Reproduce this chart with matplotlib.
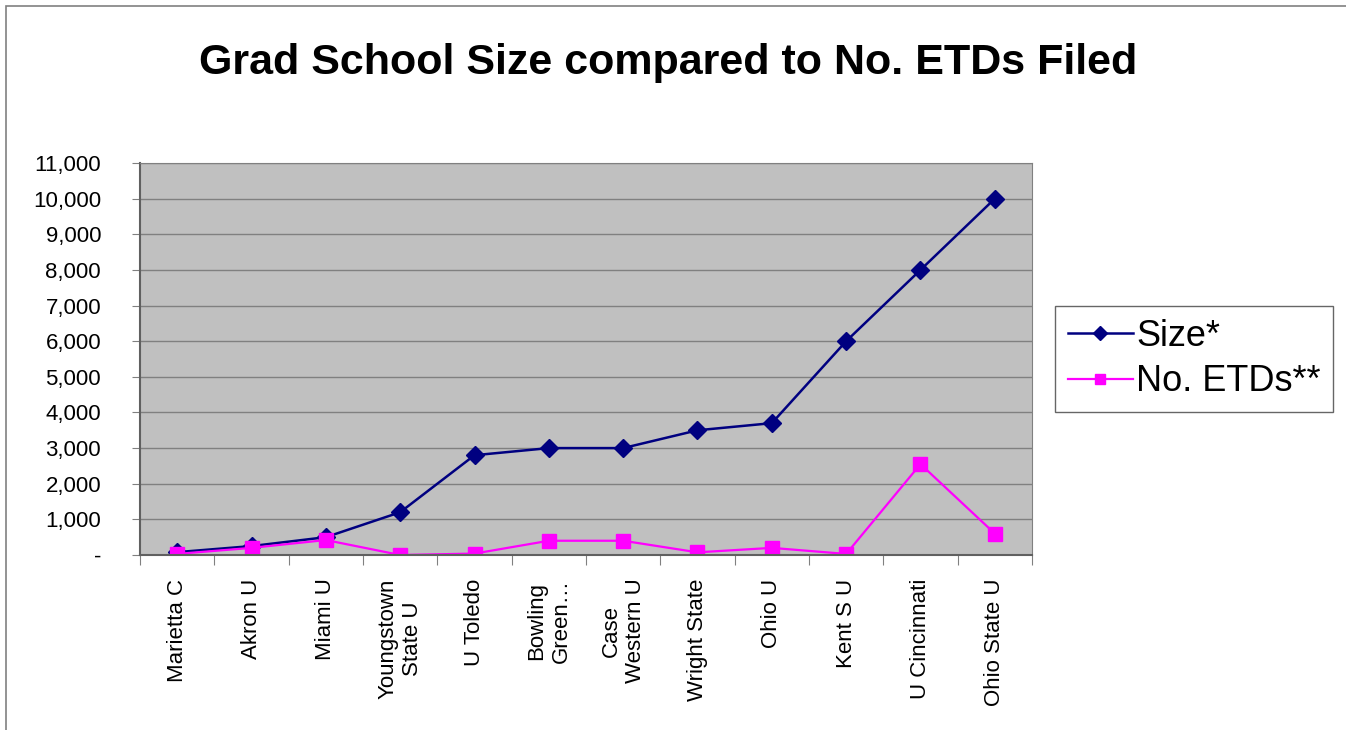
import matplotlib.pyplot as plt
import matplotlib.patches as mpatches
from matplotlib.ticker import FuncFormatter, FixedLocator
import numpy as np

plt.rcParams['font.family'] = ['Liberation Sans', 'DejaVu Sans']

schools = ["Marietta C", "Akron U", "Miami U", "Youngstown\nState U", "U Toledo",
           "Bowling\nGreen\u2026", "Case\nWestern U", "Wright State", "Ohio U",
           "Kent S U", "U Cincinnati", "Ohio State U"]
size = [80, 250, 500, 1200, 2800, 3000, 3000, 3500, 3700, 6000, 8000, 10000]
etds = [30, 200, 420, 0, 40, 400, 400, 75, 200, 30, 2550, 600]

fig = plt.figure(figsize=(13.46, 7.30), dpi=100)
fig.patches.append(mpatches.Rectangle((6 / 1346, -0.01), 1.02, 1 - 6 / 730 + 0.01,
                                      transform=fig.transFigure, fill=False,
                                      edgecolor='#808080', linewidth=1.2))
ax = fig.add_axes([140 / 1346, 1 - 555 / 730, (1032 - 140) / 1346, (555 - 163) / 730])
ax.set_facecolor('#C0C0C0')

x = np.arange(len(schools))
ax.plot(x, size, color='#000080', marker='D', markersize=9, linewidth=1.8, label='Size*')
ax.plot(x, etds, color='#FF00FF', marker='s', markersize=10, linewidth=1.6, label='No. ETDs**')

ax.set_xlim(-0.5, len(schools) - 0.5)
ax.set_ylim(0, 11000)
ax.set_yticks(np.arange(0, 11001, 1000))
ax.yaxis.set_major_formatter(FuncFormatter(lambda v, p: '-' if v == 0 else f'{int(v):,}'))
ax.grid(axis='y', color='#808080', linewidth=1)
ax.set_axisbelow(True)

ax.xaxis.set_major_locator(FixedLocator(np.arange(-0.5, len(schools), 1)))
ax.set_xticklabels([])
ax.xaxis.set_minor_locator(FixedLocator(x))
ax.set_xticklabels(schools, minor=True, rotation=90, ha='center', va='top',
                   multialignment='center', fontsize=16)
ax.tick_params(axis='x', which='minor', length=0, pad=17)
ax.tick_params(axis='x', which='major', length=7, color='#808080')
ax.tick_params(axis='y', length=6, color='#808080', labelsize=16, pad=22)

for s in ['top', 'right']:
    ax.spines[s].set_color('#808080')
for s in ['left', 'bottom']:
    ax.spines[s].set_color('#606060')
    ax.spines[s].set_linewidth(1.5)

fig.text(668 / 1346, 1 - 63 / 730, 'Grad School Size compared to No. ETDs Filed',
         ha='center', va='center', fontsize=31, fontweight='bold')

leg = fig.legend(loc='center left', bbox_to_anchor=(1055 / 1346, 1 - 359 / 730),
                 fontsize=26, frameon=True, fancybox=False, edgecolor='#404040',
                 handlelength=1.8, handletextpad=0.1, borderpad=0.35, labelspacing=0.3,
                 borderaxespad=0, markerscale=0.75)
leg.get_frame().set_linewidth(1)

fig.savefig('out.png', dpi=100)
